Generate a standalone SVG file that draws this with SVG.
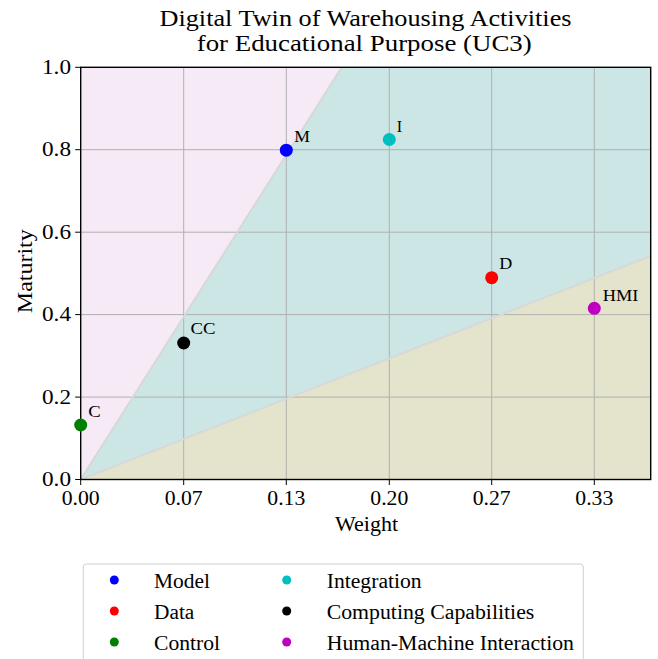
<svg xmlns="http://www.w3.org/2000/svg" width="658" height="659" viewBox="0 0 658 659">
  <style>
    text { font-family: "Liberation Serif", "DejaVu Serif", serif; fill: #000; }
    .title { font-size: 23px; text-anchor: middle; }
    .tick { font-size: 20px; }
    .xt { text-anchor: middle; }
    .yt { text-anchor: end; }
    .lab { font-size: 16px; }
    .leg { font-size: 20.5px; }
    .grid { stroke: #b0b0b0; stroke-width: 1; fill: none; }
    .tk { stroke: #000; stroke-width: 1; }
    .bound { stroke: #d8d8d8; stroke-width: 2; fill: none; }
  </style>
  <defs>
    <clipPath id="plotArea">
      <rect x="80.7" y="67.3" width="570" height="412.2"/>
    </clipPath>
  </defs>

  <rect width="658" height="659" fill="#fff"/>

  <!-- title -->
  <text class="title" x="365.5" y="25.5" textLength="412" lengthAdjust="spacingAndGlyphs">Digital Twin of Warehousing Activities</text>
  <text class="title" x="364.2" y="50.5" textLength="335" lengthAdjust="spacingAndGlyphs">for Educational Purpose (UC3)</text>

  <!-- shaded regions -->
  <g clip-path="url(#plotArea)">
    <rect x="80.7" y="67.3" width="570" height="412.2" fill="#f5eaf6"/>
    <polygon points="80.7,479.5 341.7,67.3 650.7,67.3 650.7,256 " fill="#cce5e5"/>
    <polygon points="80.7,479.5 650.7,256 650.7,479.5" fill="#e4e4cc"/>
  </g>

  <!-- grid -->
  <g class="grid">
    <line x1="183.7" y1="67.3" x2="183.7" y2="479.5"/>
    <line x1="286.3" y1="67.3" x2="286.3" y2="479.5"/>
    <line x1="389.3" y1="67.3" x2="389.3" y2="479.5"/>
    <line x1="491.7" y1="67.3" x2="491.7" y2="479.5"/>
    <line x1="594.3" y1="67.3" x2="594.3" y2="479.5"/>
    <line x1="80.7" y1="397.1" x2="650.7" y2="397.1"/>
    <line x1="80.7" y1="314.6" x2="650.7" y2="314.6"/>
    <line x1="80.7" y1="232.2" x2="650.7" y2="232.2"/>
    <line x1="80.7" y1="149.7" x2="650.7" y2="149.7"/>
  </g>

  <!-- region boundaries -->
  <g id="connectors" clip-path="url(#plotArea)">
    <line class="bound" x1="80.7" y1="479.5" x2="341.7" y2="67.3"/>
    <line class="bound" x1="80.7" y1="479.5" x2="650.7" y2="256"/>
  </g>

  <!-- axes frame and ticks -->
  <rect x="80.7" y="67.3" width="570" height="412.2" fill="none" stroke="#000" stroke-width="1.4"/>
  <g class="tk">
    <line x1="80.7" y1="479.5" x2="80.7" y2="485"/>
    <line x1="183.7" y1="479.5" x2="183.7" y2="485"/>
    <line x1="286.3" y1="479.5" x2="286.3" y2="485"/>
    <line x1="389.3" y1="479.5" x2="389.3" y2="485"/>
    <line x1="491.7" y1="479.5" x2="491.7" y2="485"/>
    <line x1="594.3" y1="479.5" x2="594.3" y2="485"/>
    <line x1="75.2" y1="479.5" x2="80.7" y2="479.5"/>
    <line x1="75.2" y1="397.1" x2="80.7" y2="397.1"/>
    <line x1="75.2" y1="314.6" x2="80.7" y2="314.6"/>
    <line x1="75.2" y1="232.2" x2="80.7" y2="232.2"/>
    <line x1="75.2" y1="149.7" x2="80.7" y2="149.7"/>
    <line x1="75.2" y1="67.3" x2="80.7" y2="67.3"/>
  </g>

  <g class="tick xt">
    <text x="80.7" y="505" textLength="38" lengthAdjust="spacingAndGlyphs">0.00</text>
    <text x="183.7" y="505" textLength="38" lengthAdjust="spacingAndGlyphs">0.07</text>
    <text x="286.3" y="505" textLength="38" lengthAdjust="spacingAndGlyphs">0.13</text>
    <text x="389.3" y="505" textLength="38" lengthAdjust="spacingAndGlyphs">0.20</text>
    <text x="491.7" y="505" textLength="38" lengthAdjust="spacingAndGlyphs">0.27</text>
    <text x="594.3" y="505" textLength="38" lengthAdjust="spacingAndGlyphs">0.33</text>
  </g>
  <g class="tick yt">
    <text x="71" y="486" textLength="29" lengthAdjust="spacingAndGlyphs">0.0</text>
    <text x="71" y="403.6" textLength="29" lengthAdjust="spacingAndGlyphs">0.2</text>
    <text x="71" y="321.1" textLength="29" lengthAdjust="spacingAndGlyphs">0.4</text>
    <text x="71" y="238.7" textLength="29" lengthAdjust="spacingAndGlyphs">0.6</text>
    <text x="71" y="156.2" textLength="29" lengthAdjust="spacingAndGlyphs">0.8</text>
    <text x="71" y="73.8" textLength="29" lengthAdjust="spacingAndGlyphs">1.0</text>
  </g>
  <text class="tick xt" x="366.6" y="530.7" textLength="63" lengthAdjust="spacingAndGlyphs">Weight</text>
  <text class="tick xt" transform="translate(32,271.2) rotate(-90)" textLength="84" lengthAdjust="spacingAndGlyphs">Maturity</text>

  <!-- data points -->
  <g id="node-model">
    <circle cx="286.3" cy="150.2" r="6.5" fill="#0000ff"/>
    <text class="lab" x="294.3" y="141.7" textLength="15.7" lengthAdjust="spacingAndGlyphs">M</text>
  </g>
  <g id="node-integration">
    <circle cx="389.3" cy="139.5" r="6.5" fill="#00bfbf"/>
    <text class="lab" x="396.7" y="131.7">I</text>
  </g>
  <g id="node-data">
    <circle cx="491.7" cy="277.7" r="6.5" fill="#ff0000"/>
    <text class="lab" x="499.3" y="269.3" textLength="13" lengthAdjust="spacingAndGlyphs">D</text>
  </g>
  <g id="node-hmi">
    <circle cx="594.3" cy="308.3" r="6.5" fill="#bf00bf"/>
    <text class="lab" x="602.7" y="300.7" textLength="35.6" lengthAdjust="spacingAndGlyphs">HMI</text>
  </g>
  <g id="node-cc">
    <circle cx="183.7" cy="343" r="6.5" fill="#000000"/>
    <text class="lab" x="190.5" y="334" textLength="25" lengthAdjust="spacingAndGlyphs">CC</text>
  </g>
  <g id="node-control">
    <circle cx="80.7" cy="425" r="6.5" fill="#008000"/>
    <text class="lab" x="88.3" y="417.3" textLength="12.4" lengthAdjust="spacingAndGlyphs">C</text>
  </g>

  <!-- legend -->
  <g id="legend">
    <rect x="83.3" y="564" width="500" height="110" rx="3" fill="#fff" stroke="#d0d0d0" stroke-width="1"/>
    <circle cx="114.3" cy="580" r="4.5" fill="#0000ff"/>
    <circle cx="114.3" cy="611" r="4.5" fill="#ff0000"/>
    <circle cx="114.3" cy="642" r="4.5" fill="#008000"/>
    <circle cx="286.7" cy="580" r="4.5" fill="#00bfbf"/>
    <circle cx="286.7" cy="611" r="4.5" fill="#000000"/>
    <circle cx="286.7" cy="642" r="4.5" fill="#bf00bf"/>
    <text class="leg" x="154" y="588" textLength="56" lengthAdjust="spacingAndGlyphs">Model</text>
    <text class="leg" x="154" y="619" textLength="40.3" lengthAdjust="spacingAndGlyphs">Data</text>
    <text class="leg" x="154" y="650" textLength="66" lengthAdjust="spacingAndGlyphs">Control</text>
    <text class="leg" x="326.7" y="588" textLength="95" lengthAdjust="spacingAndGlyphs">Integration</text>
    <text class="leg" x="326.7" y="619" textLength="207.6" lengthAdjust="spacingAndGlyphs">Computing Capabilities</text>
    <text class="leg" x="326.7" y="650" textLength="247.3" lengthAdjust="spacingAndGlyphs">Human-Machine Interaction</text>
  </g>
</svg>
